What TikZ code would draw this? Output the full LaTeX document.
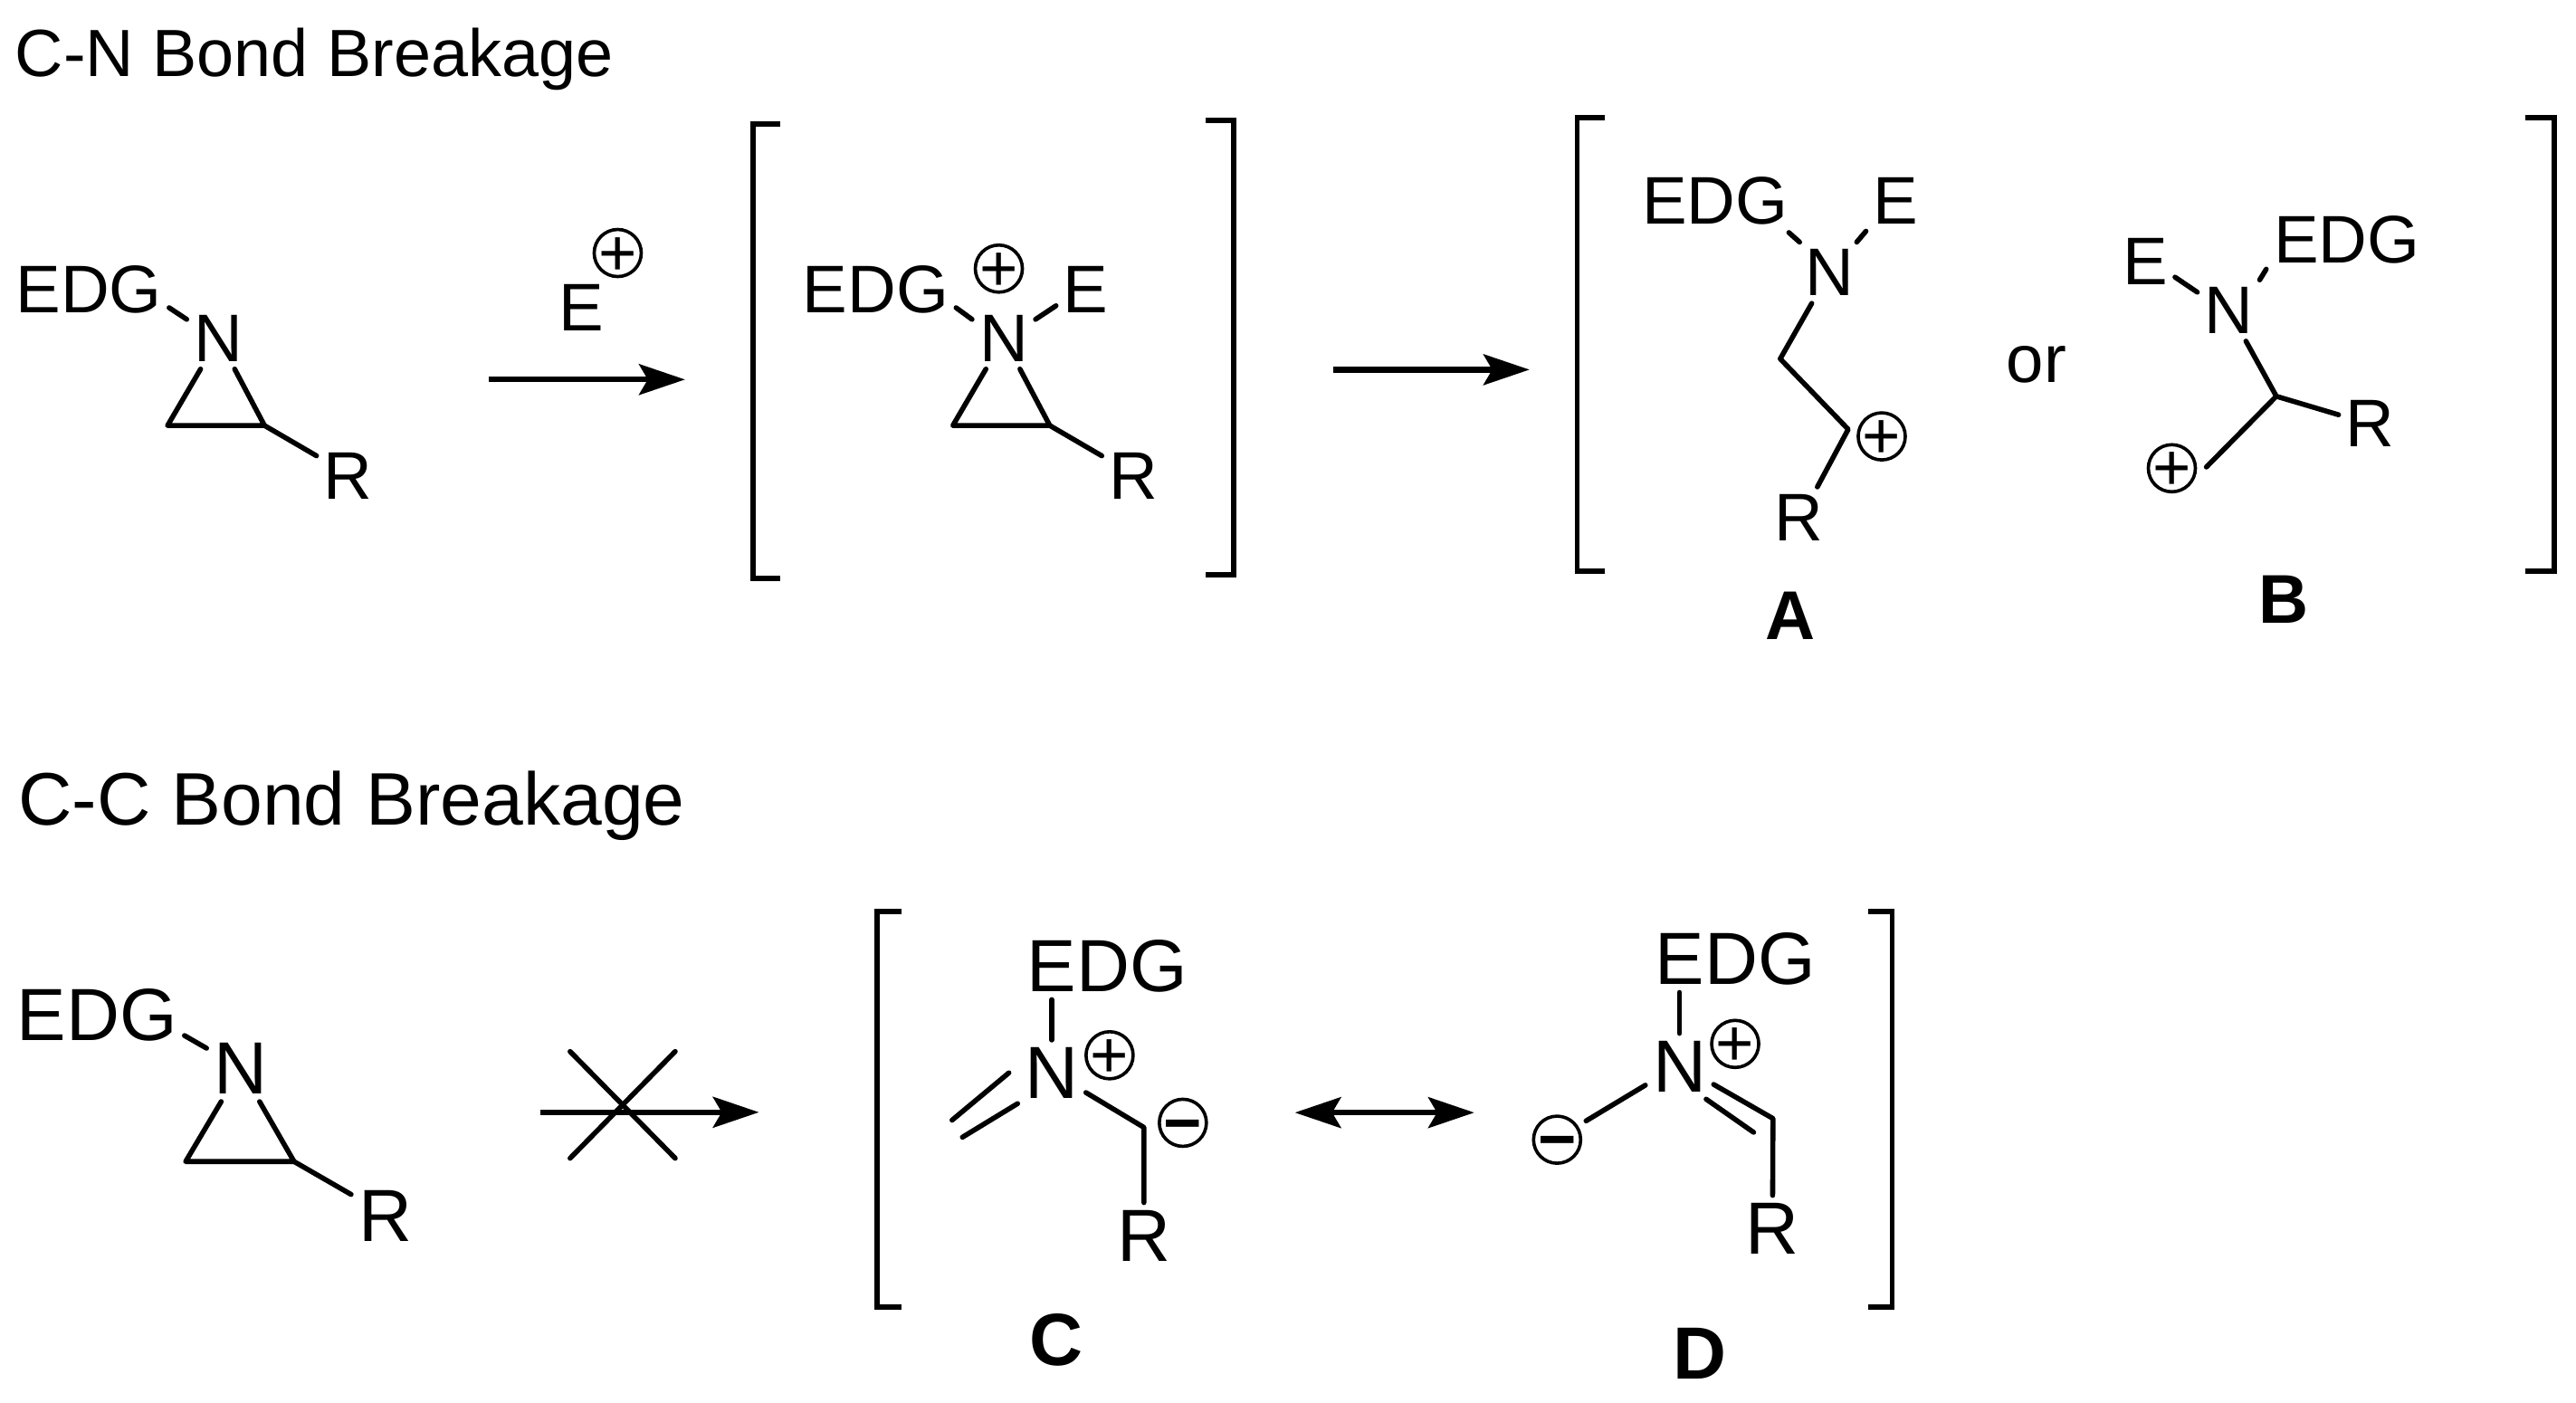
\documentclass[tikz,border=0pt]{standalone}
\usepackage{fontspec}
\setmainfont{Liberation Sans}
\usepackage{tikz}
\usetikzlibrary{arrows.meta}

\newcommand{\chgtext}[1]{\makebox[0pt]{\raisebox{-10.2pt}[0pt][0pt]{\fontsize{30}{33}\selectfont #1}}}

\tikzset{
  atom/.style={inner sep=0pt,outer sep=3.4pt,font=\fontsize{30.75}{36}\selectfont},
  atomb/.style={inner sep=0pt,outer sep=3.4pt,font=\fontsize{33.75}{40}\selectfont},
  tag/.style={inner sep=0pt,font=\bfseries\fontsize{31.5}{38}\selectfont},
  tagb/.style={inner sep=0pt,font=\bfseries\fontsize{33.75}{40}\selectfont},
  charge/.style={circle,draw,line width=1.5pt,inner sep=0pt,minimum size=21.5pt,outer sep=5pt},
  bond/.style={line width=2.3pt,line cap=round,line join=round},
  brk/.style={line width=2.4pt},
  rxn/.style={line width=2.6pt,-{Stealth[length=21pt,width=14pt,inset=4pt]}},
  rxnb/.style={line width=2.6pt,{Stealth[length=21pt,width=14pt,inset=4pt]}-{Stealth[length=21pt,width=14pt,inset=4pt]}}
}

\begin{document}
\begin{tikzpicture}[x=0.75pt,y=0.75pt,yscale=-1,xscale=1]

\useasboundingbox (0,0) rectangle (1568,853.96);

\node[inner sep=0pt,anchor=base west,font=\fontsize{30.5}{36}\selectfont] (title1) at (9,46.3) {C-N Bond Breakage};

\node[inner sep=0pt,anchor=base west,font=\fontsize{34}{40}\selectfont] (title2) at (11,502.3) {C-C Bond Breakage};

\node[atom] (edg1) at (54,176) {EDG};
\node[atom] (n1) at (133,206) {N};
\node[atom] (r1) at (212,290) {R};
\coordinate (c1) at (102,259);
\coordinate (c2) at (161,259);

\draw[bond] (edg1.-13) -- (n1.149);

\draw[bond] (n1) -- (c1) -- (c2) -- (n1);

\draw[bond] (c2) -- (r1.147);

\node[atom] (e0) at (354,187) {E};
\node[charge] (p0) at (376,154) {\chgtext{+}};
\coordinate (a1s) at (297.6,231);
\coordinate (a1e) at (417,231);

\draw[rxn] (a1s) -- (a1e);

\draw[brk] (475,75.4) -- (458.5,75.4) -- (458.5,352) -- (475,352);

\draw[brk] (734,73.4) -- (751,73.4) -- (751,350) -- (734,350);

\node[atom] (edg2) at (533,176) {EDG};
\node[atom] (n2) at (611,206) {N};
\node[atom] (e2) at (661,176) {E};
\node[atom] (r2) at (690,290) {R};
\node[charge] (p2) at (608,163.5) {\chgtext{+}};
\coordinate (c3) at (580,259);
\coordinate (c4) at (639,259);

\draw[bond] (edg2.-13) -- (n2.149);

\draw[bond] (n2.31) -- (e2.-151);

\draw[bond] (n2) -- (c3) -- (c4) -- (n2);

\draw[bond] (c4) -- (r2.147);

\coordinate (a2s) at (811.5,225);
\coordinate (a2e) at (931,225);

\draw[rxn] (a2s) -- (a2e);

\draw[brk] (977,71.5) -- (960,71.5) -- (960,347.5) -- (977,347.5);

\draw[brk] (1537.4,71.5) -- (1554.7,71.5) -- (1554.7,347.5) -- (1537.4,347.5);

\node[atom] (edgA) at (1044,122.5) {EDG};
\node[atom] (eA) at (1154,122.5) {E};
\node[atom] (nA) at (1113.4,166) {N};
\node[atom] (rA) at (1095,315) {R};
\node[charge] (pA) at (1145.4,265.6) {\chgtext{+}};
\node[tag] (lblA) at (1089.6,375) {A};
\coordinate (cA1) at (1083.6,218.4);
\coordinate (cA2) at (1125,261.3);

\draw[bond] (edgA.-23) -- (nA.134);

\draw[bond] (eA.-135) -- (nA.48);

\draw[bond] (nA) -- (cA1) -- (cA2) -- (rA.59);

\node[inner sep=0pt,font=\fontsize{30.75}{36}\selectfont] (or1) at (1239.6,222) {or};

\node[atom] (eB) at (1305.7,159) {E};
\node[atom] (edgB) at (1428.4,146) {EDG};
\node[atom] (nB) at (1356.8,189) {N};
\node[atom] (rB) at (1442.8,258) {R};
\node[charge] (pB) at (1322,285) {\chgtext{+}};
\node[tag] (lblB) at (1390,365) {B};
\coordinate (cB) at (1385.6,241.2);

\draw[bond] (eB.-28) -- (nB.150);

\draw[bond] (edgB.-160) -- (nB.45);

\draw[bond] (nB) -- (cB) -- (rB.164);

\draw[bond] (cB) -- (pB.2);

\node[atomb] (edg3) at (59,618) {EDG};
\node[atomb] (n3) at (146.5,650.5) {N};
\node[atomb] (r3) at (234.5,740) {R};
\coordinate (c5) at (113,707);
\coordinate (c6) at (179,707);

\draw[bond] (edg3.-13) -- (n3.149);

\draw[bond] (n3) -- (c5) -- (c6) -- (n3);

\draw[bond] (c6) -- (r3.148);

\coordinate (a3s) at (329,677);
\coordinate (a3e) at (462,677);
\coordinate (x1) at (347,640);
\coordinate (x2) at (411,705);
\coordinate (x3) at (411,640);
\coordinate (x4) at (347,705);

\draw[rxn] (a3s) -- (a3e);

\draw[bond] (x1) -- (x2);

\draw[bond] (x3) -- (x4);

\draw[brk] (548.7,555) -- (534,555) -- (534,795.4) -- (548.7,795.4);

\draw[brk] (1137,555) -- (1151.7,555) -- (1151.7,795.4) -- (1137,795.4);

\node[atomb] (edgC) at (674,588) {EDG};
\node[atomb] (nC) at (640.2,653) {N};
\node[atomb] (rC) at (696.3,752) {R};
\node[charge] (pC) at (675.4,642.3) {\chgtext{+}};
\node[charge] (mC) at (720,683.4) {\chgtext{\bfseries −}};
\node[tagb] (lblC) at (643,815.4) {C};
\coordinate (dC1) at (579.5,681.8);
\coordinate (dC2) at (585.8,692.2);
\coordinate (cC) at (696.3,686.2);

\draw[bond] (nC.north) -- (nC.north |- edgC.south);

\draw[bond,shorten <=5.2pt] (nC.168) -- (dC1);

\draw[bond] (nC.-138) -- (dC2);

\draw[bond] (nC.-30) -- (cC) -- (rC.north);

\coordinate (a4s) at (788.2,677.2);
\coordinate (a4e) at (897.4,677.2);

\draw[rxnb] (a4s) -- (a4e);

\node[atomb] (edgD) at (1056.3,583.6) {EDG};
\node[atomb] (nD) at (1022.3,649) {N};
\node[atomb] (rD) at (1079,747.6) {R};
\node[charge] (pD) at (1056.2,635.4) {\chgtext{+}};
\node[charge] (mD) at (947.8,693.7) {\chgtext{\bfseries −}};
\node[tagb] (lblD) at (1034.7,824) {D};
\coordinate (dD) at (1067.4,689.2);
\coordinate (cD) at (1079.2,680.8);

\draw[bond] (nD.north) -- (nD.north |- edgD.south);

\draw[bond] (nD.-151) -- (mD.33);

\draw[bond] (nD.-28) -- (cD) -- (rD.north);

\draw[bond] (nD.-51) -- (dD);

\end{tikzpicture}
\end{document}
